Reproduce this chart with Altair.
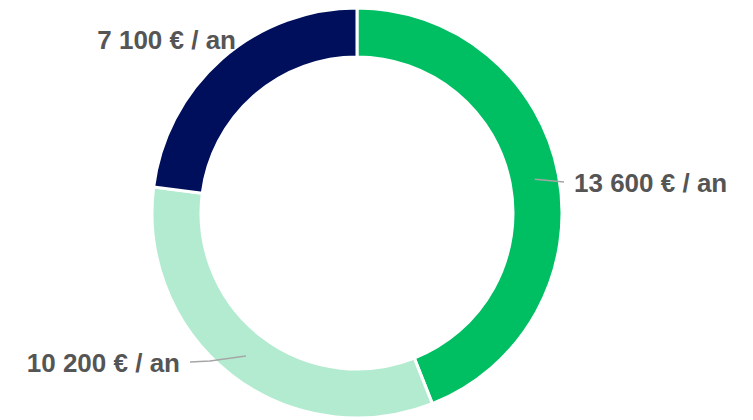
import math
import altair as alt
import pandas as pd

# ---- data ----
values = [13600, 10200, 7100]
labels = ["13 600 € / an", "10 200 € / an", "7 100 € / an"]
colors = ["#00bf63", "#b3ebd0", "#000f5b"]

# ---- layout constants (pixels inside the plot area) ----
W, H = 737, 411
CX, CY = 349, 205
R_OUT, R_IN = 205, 156
R_MID = 181

df = pd.DataFrame({"idx": range(len(values)), "value": values, "label": labels})

arcs = alt.Chart(df).mark_arc(
    radius=R_OUT, radius2=R_IN, stroke="white", strokeWidth=3
).encode(
    theta=alt.Theta("value:Q", stack=True),
    color=alt.Color("label:N", scale=alt.Scale(domain=labels, range=colors), legend=None),
    order=alt.Order("idx:Q"),
    x=alt.value(CX),
    y=alt.value(CY),
)

# midpoint angles (clockwise from top) derived from data
total = sum(values)
mids = []
acc = 0
for v in values:
    mids.append((acc + v / 2) / total * 2 * math.pi)
    acc += v

def polar(a, r):
    return CX + r * math.sin(a), CY - r * math.cos(a)

# leader lines: start at ring middle, bend points are layout offsets
leader_rows = []
sx, sy = polar(mids[0], R_MID)
for k, (px, py) in enumerate([(sx, sy), (556, 174)]):
    leader_rows.append({"seg": 0, "k": k, "x": px, "y": py})
sx, sy = polar(mids[1], R_MID)
for k, (px, py) in enumerate([(sx, sy), (202, 353), (182, 354)]):
    leader_rows.append({"seg": 1, "k": k, "x": px, "y": py})
ldf = pd.DataFrame(leader_rows)

xs = alt.Scale(domain=[0, W], range=[0, W])
ys = alt.Scale(domain=[0, H], range=[0, H])

leaders = alt.Chart(ldf).mark_line(color="#a6a6a6", strokeWidth=1.5).encode(
    x=alt.X("x:Q", scale=xs, axis=None),
    y=alt.Y("y:Q", scale=ys, axis=None),
    detail="seg:N",
    order="k:Q",
)

# label anchors (layout)
ldfl = pd.DataFrame({
    "label": labels,
    "x": [566, 172, 228],
    "y": [184, 364, 41],
    "align": ["left", "right", "right"],
})

def text_layer(i):
    row = ldfl.iloc[[i]]
    return alt.Chart(row).mark_text(
        align=row["align"].iloc[0], baseline="alphabetic", font="Liberation Sans",
        fontWeight="bold", fontSize=26, color="#555555"
    ).encode(
        x=alt.X("x:Q", scale=xs, axis=None),
        y=alt.Y("y:Q", scale=ys, axis=None),
        text="label:N",
    )

chart = alt.layer(arcs, leaders, text_layer(0), text_layer(1), text_layer(2)).properties(
    width=W, height=H, autosize=alt.AutoSizeParams(type="none"), padding=0
).configure_view(stroke=None).resolve_scale(x="shared", y="shared")

chart.save("out.html", embed_options={"renderer": "svg", "actions": False})
